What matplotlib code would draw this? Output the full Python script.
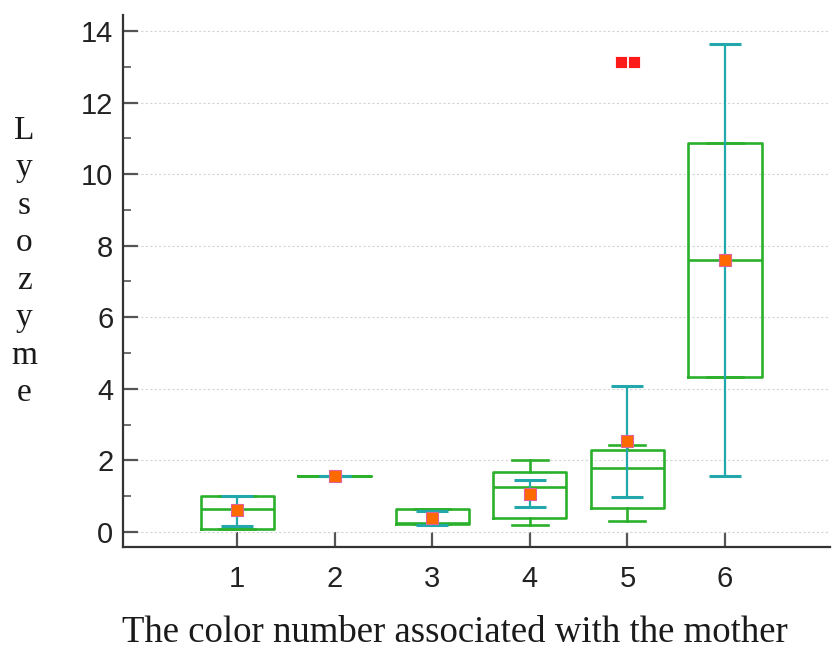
import matplotlib
matplotlib.use("Agg")
import matplotlib.pyplot as plt
import numpy as np
from matplotlib.ticker import MultipleLocator

# box plot values
groups = [1, 2, 3, 4, 5, 6]
q1 = [0.08, 1.56, 0.22, 0.40, 0.66, 4.34]
med = [0.65, 1.56, 0.26, 1.24, 1.79, 7.61]
q3 = [1.01, 1.56, 0.64, 1.67, 2.28, 10.86]
whis_lo = [0.08, 1.56, 0.22, 0.20, 0.31, 4.34]
whis_hi = [1.01, 1.56, 0.64, 2.00, 2.43, 10.86]
outliers = [[], [], [], [], [13.13, 13.13], []]

# mean and its interval (teal bars)
means = [0.61, 1.56, 0.40, 1.07, 2.53, 7.61]
mean_lo = [0.17, 1.56, 0.19, 0.69, 0.96, 1.57]
mean_hi = [1.01, 1.56, 0.59, 1.45, 4.08, 13.65]

ylabel = "Lysozyme"
xlabel = "The color number associated with the mother"

green = "#2bb02b"
teal = "#22a8ab"

fig = plt.figure(figsize=(8.32, 6.51), dpi=100)
ax = fig.add_axes([0.148, 0.160, 0.850, 0.817])

stats = []
for i in range(len(groups)):
    stats.append({"med": med[i], "q1": q1[i], "q3": q3[i],
                  "whislo": whis_lo[i], "whishi": whis_hi[i], "fliers": []})

gprops = dict(color=green, linewidth=1.9)
ax.bxp(stats, positions=groups, widths=0.75, capwidths=0.37, showfliers=False,
       boxprops=gprops, medianprops=gprops, whiskerprops=gprops,
       capprops=gprops, manage_ticks=False, zorder=3)

# teal mean +/- interval bars on top of the boxes
m = np.array(means)
yerr = np.vstack([m - np.array(mean_lo), np.array(mean_hi) - m])
ax.errorbar(groups, means, yerr=yerr, fmt="none", ecolor=teal, elinewidth=1.6,
            capsize=11.4, capthick=2.2, zorder=4)

# outliers shown side by side
for i, vals in enumerate(outliers):
    if vals:
        n = len(vals)
        offs = (np.arange(n) - (n - 1) / 2) * 0.125
        ax.plot(np.array(groups[i]) + offs, vals, "s", color="#ff1a1a",
                markersize=8.5, markeredgecolor="white", markeredgewidth=0.6, zorder=5)

ax.plot(groups, means, "s", color="#ff6a00", markeredgecolor="#e0609a",
        markeredgewidth=0.8, markersize=8.5, linestyle="none", zorder=6)

ax.set_xlim(-0.17, 7.08)
ax.set_ylim(-0.42, 14.45)
ax.set_xticks(groups)
ax.yaxis.set_major_locator(MultipleLocator(2))
ax.yaxis.set_minor_locator(MultipleLocator(1))
ax.grid(axis="y", which="major", color="#d4d4d4", linestyle=(0, (2, 2)), linewidth=0.8)
ax.set_axisbelow(True)

for s in ["top", "right"]:
    ax.spines[s].set_visible(False)
for s in ["left", "bottom"]:
    ax.spines[s].set_color("#333333")
    ax.spines[s].set_linewidth(1.6)

ax.tick_params(axis="both", which="major", direction="in", length=11, width=1.6,
               color="#555555", labelsize=21, labelcolor="#222222")
ax.tick_params(axis="y", which="minor", direction="in", length=6, width=1.2, color="#555555")
ax.tick_params(axis="y", pad=7)
ax.tick_params(axis="x", pad=13)
for lab in ax.get_xticklabels() + ax.get_yticklabels():
    lab.set_family(["Liberation Sans", "DejaVu Sans"])

fig.text(0.029, 0.598, "\n".join(ylabel), ha="center", va="center",
         family="Liberation Serif", fontsize=24, linespacing=1.3, color="#1a1a1a")
fig.text(0.547, 0.028, xlabel, ha="center", va="center",
         family="Liberation Serif", fontsize=26.5, color="#1a1a1a")

fig.savefig("out.png", dpi=100)
